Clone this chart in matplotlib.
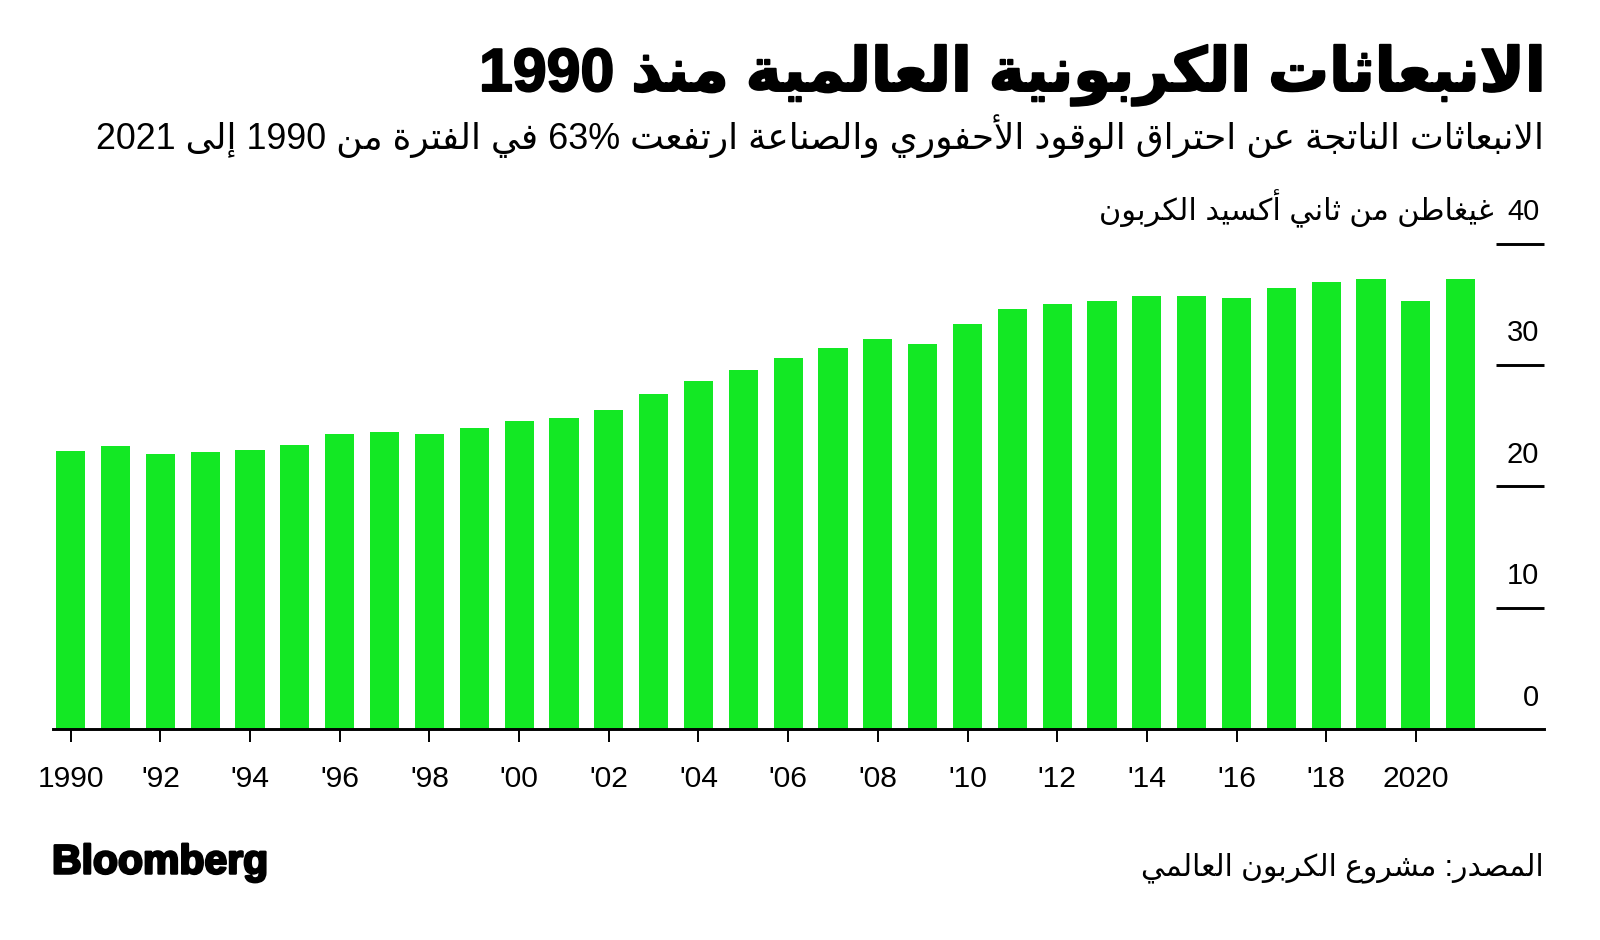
import re
import matplotlib
matplotlib.use("Agg")
import matplotlib.pyplot as plt
from matplotlib import font_manager as fm
import matplotlib.patheffects as pe

# ---------------- data ----------------
years = list(range(1990, 2022))
emissions = [22.9, 23.3, 22.7, 22.8, 23.0, 23.4, 24.3, 24.5, 24.3, 24.8,
             25.4, 25.6, 26.3, 27.6, 28.7, 29.6, 30.6, 31.4, 32.1, 31.7,
             33.4, 34.6, 35.0, 35.3, 35.7, 35.7, 35.5, 36.3, 36.8, 37.1,
             35.3, 37.1]
xtick_years = list(range(1990, 2021, 2))
xtick_labels = ["1990", "'92", "'94", "'96", "'98", "'00", "'02", "'04", "'06",
                "'08", "'10", "'12", "'14", "'16", "'18", "2020"]
ytick_values = [0, 10, 20, 30, 40]
ytick_labels = ["0", "10", "20", "30", "40"]

title_text = "الانبعاثات الكربونية العالمية منذ 1990"
subtitle_text = "الانبعاثات الناتجة عن احتراق الوقود الأحفوري والصناعة ارتفعت 63% في الفترة من 1990 إلى 2021"
unit_text = "غيغاطن من ثاني أكسيد الكربون"
source_text = "المصدر: مشروع الكربون العالمي"
brand_text = "Bloomberg"

# ---------------- minimal Arabic shaping + RTL ordering ----------------
AR = {
    '\u0621': ('\ufe80',),
    '\u0622': ('\ufe81', '\ufe82'),
    '\u0623': ('\ufe83', '\ufe84'),
    '\u0624': ('\ufe85', '\ufe86'),
    '\u0625': ('\ufe87', '\ufe88'),
    '\u0626': ('\ufe89', '\ufe8a', '\ufe8b', '\ufe8c'),
    '\u0627': ('\ufe8d', '\ufe8e'),
    '\u0628': ('\ufe8f', '\ufe90', '\ufe91', '\ufe92'),
    '\u0629': ('\ufe93', '\ufe94'),
    '\u062a': ('\ufe95', '\ufe96', '\ufe97', '\ufe98'),
    '\u062b': ('\ufe99', '\ufe9a', '\ufe9b', '\ufe9c'),
    '\u062c': ('\ufe9d', '\ufe9e', '\ufe9f', '\ufea0'),
    '\u062d': ('\ufea1', '\ufea2', '\ufea3', '\ufea4'),
    '\u062e': ('\ufea5', '\ufea6', '\ufea7', '\ufea8'),
    '\u062f': ('\ufea9', '\ufeaa'),
    '\u0630': ('\ufeab', '\ufeac'),
    '\u0631': ('\ufead', '\ufeae'),
    '\u0632': ('\ufeaf', '\ufeb0'),
    '\u0633': ('\ufeb1', '\ufeb2', '\ufeb3', '\ufeb4'),
    '\u0634': ('\ufeb5', '\ufeb6', '\ufeb7', '\ufeb8'),
    '\u0635': ('\ufeb9', '\ufeba', '\ufebb', '\ufebc'),
    '\u0636': ('\ufebd', '\ufebe', '\ufebf', '\ufec0'),
    '\u0637': ('\ufec1', '\ufec2', '\ufec3', '\ufec4'),
    '\u0638': ('\ufec5', '\ufec6', '\ufec7', '\ufec8'),
    '\u0639': ('\ufec9', '\ufeca', '\ufecb', '\ufecc'),
    '\u063a': ('\ufecd', '\ufece', '\ufecf', '\ufed0'),
    '\u0641': ('\ufed1', '\ufed2', '\ufed3', '\ufed4'),
    '\u0642': ('\ufed5', '\ufed6', '\ufed7', '\ufed8'),
    '\u0643': ('\ufed9', '\ufeda', '\ufedb', '\ufedc'),
    '\u0644': ('\ufedd', '\ufede', '\ufedf', '\ufee0'),
    '\u0645': ('\ufee1', '\ufee2', '\ufee3', '\ufee4'),
    '\u0646': ('\ufee5', '\ufee6', '\ufee7', '\ufee8'),
    '\u0647': ('\ufee9', '\ufeea', '\ufeeb', '\ufeec'),
    '\u0648': ('\ufeed', '\ufeee'),
    '\u0649': ('\ufeef', '\ufef0'),
    '\u064a': ('\ufef1', '\ufef2', '\ufef3', '\ufef4'),
}
LAM_ALEF = {'\u0622': ('\ufef5', '\ufef6'), '\u0623': ('\ufef7', '\ufef8'),
            '\u0625': ('\ufef9', '\ufefa'), '\u0627': ('\ufefb', '\ufefc')}


def shape(s):
    toks = []
    i = 0
    while i < len(s):
        c = s[i]
        if c == '\u0644' and i + 1 < len(s) and s[i + 1] in LAM_ALEF:
            toks.append((c, LAM_ALEF[s[i + 1]]))
            i += 2
        else:
            toks.append((c, AR.get(c)))
            i += 1
    out = []
    for k, (c, f) in enumerate(toks):
        if f is None:
            out.append(c)
            continue
        prev = toks[k - 1][1] if k > 0 else None
        nxt = toks[k + 1][1] if k + 1 < len(toks) else None
        jp = prev is not None and len(prev) == 4 and len(f) >= 2
        jn = len(f) == 4 and nxt is not None and len(nxt) >= 2
        if jp and jn:
            out.append(f[3])
        elif jp:
            out.append(f[1])
        elif jn:
            out.append(f[2])
        else:
            out.append(f[0])
    return ''.join(out)


def rtl(s):
    shaped = shape(s)
    runs = re.findall(r'[0-9A-Za-z%]+|[^0-9A-Za-z%]+', shaped)
    out = []
    for r in reversed(runs):
        if re.match(r'[0-9A-Za-z%]', r):
            out.append(r)
        else:
            out.append(r[::-1])
    return ''.join(out)


# ---------------- fonts ----------------
FAM = ['Liberation Sans', 'DejaVu Sans']
plt.rcParams['font.family'] = FAM
bold_ok = False
try:
    from fontTools.ttLib import TTFont
    p = fm.findfont(fm.FontProperties(family='DejaVu Sans', weight='bold'))
    bold_ok = 0xFE8D in TTFont(p).getBestCmap()
except Exception:
    bold_ok = False

GREEN = '#13E824'
W, H = 1600, 940
fig = plt.figure(figsize=(16, 9.4), dpi=100)
fig.patch.set_facecolor('white')

# axes geometry (pixels measured from reference)
x_left, x_right = 52.7, 1544.0
y_zero, y_forty = 729.3, 243.5
ax = fig.add_axes([x_left / W, (H - y_zero) / H, (x_right - x_left) / W, (y_zero - y_forty) / H])
px_per_year = 44.84
x0_px = 70.7
ax.set_xlim(1990 - (x0_px - x_left) / px_per_year, 1990 + (x_right - x0_px) / px_per_year)
ax.set_ylim(0, 40)

ax.bar(years, emissions, width=0.65, color=GREEN, zorder=2)

for s in ['top', 'right', 'left']:
    ax.spines[s].set_visible(False)
ax.spines['bottom'].set_linewidth(2.1)
ax.spines['bottom'].set_color('black')
ax.spines['bottom'].set_zorder(3)

ax.set_xticks(xtick_years)
ax.set_xticklabels(xtick_labels)
ax.tick_params(axis='x', length=9, width=1.4, color='black', pad=16.5,
               labelsize=21.6, labelcolor='black')
ax.set_yticks(ytick_values)
ax.set_yticklabels([])
ax.tick_params(axis='y', length=0, left=False, labelleft=False)

# short right-side gridlines
ytrans = ax.get_yaxis_transform()
g0 = (1496.0 - x_left) / (x_right - x_left)
ax.hlines(ytick_values[1:], g0, 1.0, transform=ytrans, colors='black',
          linewidth=2.1, zorder=3, clip_on=False)
lab_x = (1539.3 - x_left) / (x_right - x_left)
for v, lab in zip(ytick_values, ytick_labels):
    ax.annotate(lab, xy=(lab_x, v), xycoords=ytrans, xytext=(0, 17.0),
                textcoords='offset points', ha='right', va='baseline',
                fontsize=21.0, color='black')

renderer = fig.canvas.get_renderer()


def fit(t, target_w):
    for _ in range(3):
        w = t.get_window_extent(renderer).width
        t.set_fontsize(t.get_fontsize() * target_w / w)


# unit label left of "40"
unit_x = (1493.7 - x_left) / (x_right - x_left)
ut = ax.annotate(rtl(unit_text), xy=(unit_x, 40), xycoords=ytrans, xytext=(0, 17.0),
                 textcoords='offset points', ha='right', va='baseline',
                 fontsize=20, color='black')
fit(ut, 395)

# title
if bold_ok:
    tkw = dict(fontweight='bold',
               path_effects=[pe.withStroke(linewidth=1.4, foreground='black')])
else:
    tkw = dict(path_effects=[pe.withStroke(linewidth=3.0, foreground='black')])
tt = fig.text(1544 / W, (H - 91) / H, rtl(title_text), ha='right', va='baseline',
              fontsize=40, color='black', **tkw)
fit(tt, 1066)

st = fig.text(1544 / W, (H - 149) / H, rtl(subtitle_text), ha='right', va='baseline',
              fontsize=24, color='black')
fit(st, 1449)

sr = fig.text(1544 / W, (H - 875.5) / H, rtl(source_text), ha='right', va='baseline',
              fontsize=22, color='black')
fit(sr, 403)

bt = fig.text(52 / W, (H - 873.5) / H, brand_text, ha='left', va='baseline',
              fontsize=30, fontweight='bold', color='black',
              path_effects=[pe.withStroke(linewidth=1.8, foreground='black')])
fit(bt, 216)

fig.savefig('out.png', dpi=100, facecolor='white')
